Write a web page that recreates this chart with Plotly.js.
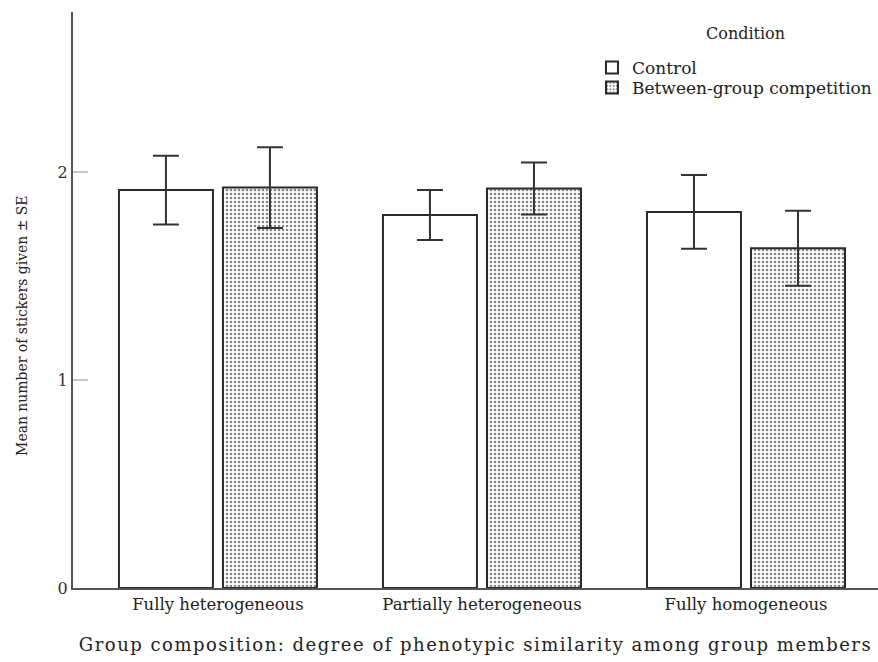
<!DOCTYPE html>
<html>
<head>
<meta charset="utf-8">
<script src="https://cdn.plot.ly/plotly-3.0.1.min.js"></script>
<style>
html,body{margin:0;padding:0;background:#fff;}
#chart{width:878px;height:662px;}
#chart .xtitle{letter-spacing:1.5px;}
</style>
</head>
<body>
<div id="chart"></div>
<script>
const categories = ["Fully heterogeneous", "Partially heterogeneous", "Fully homogeneous"];
const controlMeans = [1.913, 1.793, 1.808];
const controlSE = [0.165, 0.120, 0.177];
const competitionMeans = [1.925, 1.921, 1.633];
const competitionSE = [0.194, 0.125, 0.180];
const seriesNames = ["Control", "Between-group competition"];
const legendTitle = "Condition";
const yTitle = "Mean number of stickers given \u00B1 SE";
const xTitle = "Group composition: degree of phenotypic similarity among group members";
const yTickVals = [0, 1, 2];

const font = "'DejaVu Serif', 'Liberation Serif', serif";
const condFont = "'DejaVu Serif Condensed', 'DejaVu Serif', serif";
const txt = "#222";
const errStyle = {type: "data", visible: true, color: "#333", thickness: 2, width: 13};

const traces = [
  {
    type: "bar", name: seriesNames[0], x: categories, y: controlMeans,
    width: 0.356, offset: -0.375, legend: "legend",
    marker: {color: "#ffffff", line: {color: "#2a2a2a", width: 2}},
    error_y: Object.assign({array: controlSE}, errStyle),
    hoverinfo: "skip"
  },
  {
    type: "bar", name: seriesNames[1], x: categories, y: competitionMeans,
    width: 0.356, offset: 0.019, legend: "legend2",
    marker: {color: "#ffffff", line: {color: "#2a2a2a", width: 2},
      pattern: {shape: ".", fgcolor: "#8a8a8a", bgcolor: "#ffffff", size: 4, solidity: 0.35, fillmode: "replace"}},
    error_y: Object.assign({array: competitionSE}, errStyle),
    hoverinfo: "skip"
  }
];

const legendBase = {
  x: 0.6447, xanchor: "left", yanchor: "middle",
  bgcolor: "rgba(0,0,0,0)", borderwidth: 0,
  font: {family: font, size: 17, color: txt}
};

const layout = {
  width: 878, height: 662,
  margin: {l: 73, r: 0, t: 12, b: 74},
  paper_bgcolor: "#ffffff", plot_bgcolor: "#ffffff",
  font: {family: font, color: txt, size: 16},
  barmode: "overlay",
  showlegend: true,
  legend: Object.assign({y: 0.9028}, legendBase),
  legend2: Object.assign({y: 0.868}, legendBase),
  annotations: [
    {
      text: legendTitle, xref: "paper", yref: "paper", x: 0.835, y: 0.9635,
      xanchor: "center", yanchor: "middle", showarrow: false,
      font: {family: font, size: 16, color: txt}
    },
    {
      text: yTitle, xref: "paper", yref: "paper", x: -0.0634, y: 0.455,
      xanchor: "center", yanchor: "middle", showarrow: false, textangle: -90,
      font: {family: condFont, size: 15.5, color: txt}
    }
  ],
  xaxis: {
    type: "category", range: [-0.549, 2.5],
    showline: true, linecolor: "#555", linewidth: 2,
    ticks: "", showgrid: false, zeroline: false,
    tickfont: {family: font, size: 16.5, color: txt},
    title: {text: xTitle, standoff: 26, font: {family: font, size: 18, color: txt}}
  },
  yaxis: {
    range: [0, 2.769], tickvals: yTickVals, ticktext: yTickVals.map(String),
    showline: true, linecolor: "#555", linewidth: 2,
    ticks: "inside", ticklen: 15, tickcolor: "#c8c8c8", tickwidth: 2,
    showgrid: false, zeroline: false,
    tickfont: {family: font, size: 16, color: "#333"}
  }
};

Plotly.newPlot("chart", traces, layout, {staticPlot: true, displayModeBar: false});
</script>
</body>
</html>
